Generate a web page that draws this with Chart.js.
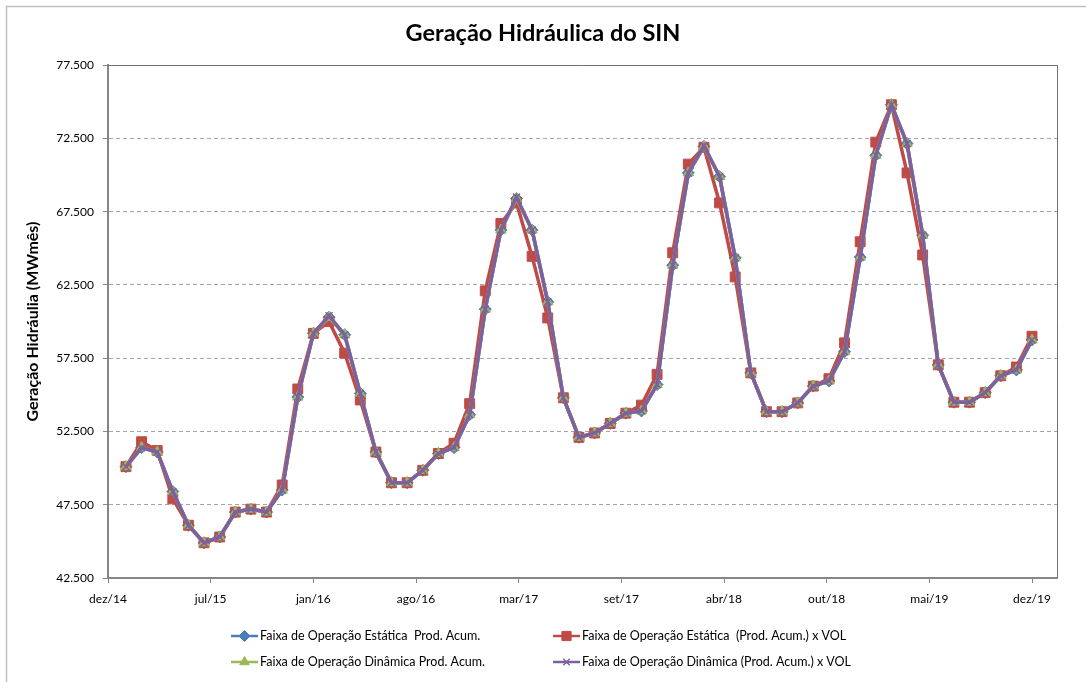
<!DOCTYPE html>
<html lang="pt-BR">
<head>
<meta charset="UTF-8">
<title>Geração Hidráulica do SIN</title>
<script src="https://cdn.jsdelivr.net/npm/chart.js"></script>
<style>
    body { margin: 0; background: #fff; }
    .wrap { width: 1086px; height: 682px; position: relative; }
</style>
</head>
<body>
<div class="wrap"><canvas id="chart"></canvas></div>
<script>
// valores (MWmês), um ponto por mês
const estatica = [50100,51400,51100,48400,46100,44900,45300,47000,47200,47000,
                  48500,54850,59200,60300,59100,55100,51100,49000,49000,49850,
                  51000,51400,53650,60850,66250,68400,66250,61350,54800,52100,
                  52400,53050,53750,53900,55700,63850,70150,71950,69900,64350,
                  56500,53850,53850,54450,55600,55950,57950,64400,71350,74800,
                  72150,65900,57050,54500,54500,55150,56300,56700,58750];
const estaticaVol = [50100,51800,51200,47900,46100,44900,45300,47000,47200,47000,
                     48850,55400,59200,60000,57850,54650,51100,49000,49000,49850,
                     51000,51700,54400,62100,66700,68100,64450,60250,54800,52100,
                     52400,53050,53750,54300,56400,64700,70750,71900,68100,63050,
                     56500,53850,53850,54450,55600,56100,58550,65450,72250,74800,
                     70150,64550,57050,54500,54500,55150,56300,56900,59000];
const dinamica = [50100,51400,51100,48400,46100,44900,45300,47000,47200,47000,
                  48500,54850,59200,60300,59100,55100,51100,49000,49000,49850,
                  51000,51400,53650,60850,66250,68400,66250,61350,54800,52100,
                  52400,53050,53750,53900,55700,63850,70150,71950,69900,64350,
                  56500,53850,53850,54450,55600,55950,57950,64400,71350,74800,
                  72150,65900,57050,54500,54500,55150,56300,56700,58750];
const dinamicaVol = [50100,51400,51100,48400,46100,44900,45300,47000,47200,47000,
                     48500,54850,59200,60400,59100,55100,51100,49000,49000,49850,
                     51000,51400,53650,60850,66250,68500,66250,61350,54800,52100,
                     52400,53050,53750,53900,55700,63850,70150,72000,69900,64350,
                     56500,53850,53850,54450,55600,55950,57950,64400,71350,74800,
                     72150,65900,57050,54500,54500,55150,56300,56700,58750];

const nomes = [
    'Faixa de Operação Estática  Prod. Acum.',
    'Faixa de Operação Estática  (Prod. Acum.) x VOL',
    'Faixa de Operação Dinâmica Prod. Acum.',
    'Faixa de Operação Dinâmica (Prod. Acum.) x VOL'
];
const xTickLabels = ['dez/14','jul/15','jan/16','ago/16','mar/17','set/17','abr/18','out/18','mai/19','dez/19'];
const yTicks = [42500, 47500, 52500, 57500, 62500, 67500, 72500, 77500];

const FONTE = 'Lato';
const xMin = -0.15, xMax = 60.6, xUltimo = 59;

function fmt(v) {
    return Math.round(v).toString().replace(/\B(?=(\d{3})+(?!\d))/g, '.');
}
function pontos(arr) {
    return arr.map((v, i) => ({ x: i + 1, y: v }));
}
function serie(idx, arr, cor, estilo, raio, ordem) {
    return {
        label: nomes[idx],
        data: pontos(arr),
        borderColor: cor,
        backgroundColor: cor,
        pointBackgroundColor: cor,
        pointBorderColor: cor,
        borderWidth: 3.5,
        pointStyle: estilo,
        pointRadius: raio,
        pointBorderWidth: estilo === 'crossRot' ? 1.5 : 1,
        tension: 0,
        order: ordem
    };
}

// moldura da área de plotagem e borda externa
const moldura = {
    id: 'moldura',
    beforeDraw(chart) {
        const c = chart.ctx;
        c.save();
        c.fillStyle = '#fff';
        c.fillRect(0, 0, chart.width, chart.height);
        c.strokeStyle = '#c0c0c0';
        c.lineWidth = 1.5;
        c.beginPath();
        c.moveTo(6.5, chart.height);
        c.lineTo(6.5, 6.5);
        c.lineTo(chart.width, 6.5);
        c.stroke();
        c.restore();
    },
    beforeDatasetsDraw(chart) {
        const a = chart.chartArea, c = chart.ctx;
        c.save();
        c.strokeStyle = '#707070';
        c.lineWidth = 1;
        c.beginPath();
        c.moveTo(a.left, Math.round(a.top) + 0.5);
        c.lineTo(Math.round(a.right) + 0.5, Math.round(a.top) + 0.5);
        c.lineTo(Math.round(a.right) + 0.5, a.bottom);
        c.stroke();
        c.restore();
    }
};

// legenda em duas colunas, como no Excel
const legenda = {
    id: 'legenda',
    afterDraw(chart) {
        const c = chart.ctx;
        const colX = [231, 553], linY = [636, 662];
        c.save();
        chart.data.datasets.forEach((ds, i) => {
            const x = colX[i % 2], y = linY[Math.floor(i / 2)];
            c.strokeStyle = ds.borderColor;
            c.fillStyle = ds.borderColor;
            c.lineWidth = 2.5;
            c.beginPath();
            c.moveTo(x, y);
            c.lineTo(x + 27, y);
            c.stroke();
            c.lineWidth = ds.pointBorderWidth;
            Chart.helpers.drawPoint(c, {
                pointStyle: ds.pointStyle, rotation: 0,
                radius: ds.pointRadius - 0.5, borderWidth: ds.pointBorderWidth
            }, x + 13.5, y);
            c.fillStyle = '#000';
            c.font = '12.5px ' + FONTE;
            c.textBaseline = 'middle';
            c.textAlign = 'left';
            c.fillText(ds.label, x + 29, y);
        });
        c.restore();
    }
};

const ctx = document.getElementById('chart').getContext('2d');
new Chart(ctx, {
    type: 'line',
    data: {
        datasets: [
            serie(0, estatica, '#4a7ebb', 'rectRot', 6, 3),
            serie(1, estaticaVol, '#be4b48', 'rect', 7, 2),
            serie(2, dinamica, '#98b954', 'triangle', 6, 1),
            serie(3, dinamicaVol, '#7d60a0', 'crossRot', 5, 0)
        ]
    },
    options: {
        responsive: true,
        maintainAspectRatio: false,
        animation: false,
        layout: { padding: { left: 0, right: 0, top: 0, bottom: 60 } },
        plugins: {
            legend: { display: false },
            tooltip: { enabled: false },
            title: {
                display: true,
                text: 'Geração Hidráulica do SIN',
                color: '#000',
                font: { family: FONTE, size: 23.5, weight: 'bold' },
                padding: { top: 19, bottom: 18 }
            }
        },
        scales: {
            x: {
                type: 'linear',
                min: xMin,
                max: xMax,
                afterBuildTicks: s => {
                    s.ticks = xTickLabels.map((t, k) => ({ value: xMin + k * (xUltimo - xMin) / (xTickLabels.length - 1) }));
                },
                afterFit: s => { s.height = 44; },
                ticks: {
                    callback: (v, i) => xTickLabels[i],
                    color: '#000',
                    font: { family: FONTE, size: 12 },
                    padding: 9,
                    maxRotation: 0,
                    autoSkip: false
                },
                grid: { drawOnChartArea: false, tickLength: 5, tickColor: '#868686' },
                border: { color: '#868686', width: 2 }
            },
            y: {
                min: 42500,
                max: 77500,
                afterBuildTicks: s => { s.ticks = yTicks.map(v => ({ value: v })); },
                afterFit: s => { s.width = 108; },
                ticks: {
                    callback: v => fmt(v),
                    color: '#000',
                    font: { family: FONTE, size: 12 },
                    padding: 9
                },
                grid: {
                    color: c => (c.tick && (c.tick.value === 42500 || c.tick.value === 77500)) ? 'rgba(0,0,0,0)' : '#a6a6a6',
                    lineWidth: 1,
                    tickLength: 5,
                    tickColor: '#868686'
                },
                border: { color: '#868686', width: 2, dash: [4, 3] },
                title: {
                    display: true,
                    text: 'Geração Hidráulia (MWmês)',
                    color: '#000',
                    font: { family: FONTE, size: 16, weight: 'bold' },
                    padding: { top: 23, bottom: 0 }
                }
            },
            // eixo vazio à direita, só para reservar a margem
            margem: {
                type: 'linear',
                position: 'right',
                display: true,
                afterFit: s => { s.width = 29; },
                ticks: { display: false },
                grid: { display: false, drawTicks: false },
                border: { display: false }
            }
        }
    },
    plugins: [moldura, legenda]
});
</script>
</body>
</html>
